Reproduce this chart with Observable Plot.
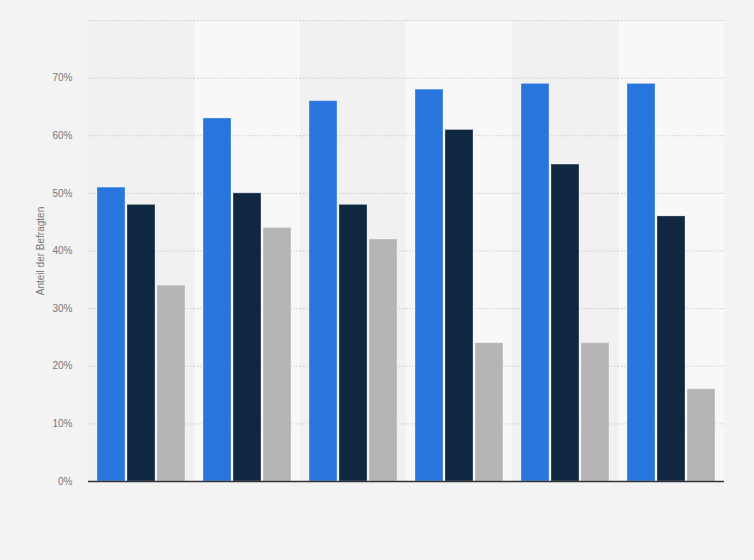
<!DOCTYPE html>
<html>
<head>
<meta charset="utf-8">
<script src="https://cdn.jsdelivr.net/npm/d3@7"></script>
<script src="https://cdn.jsdelivr.net/npm/@observablehq/plot@0.6"></script>
<style>
  html, body { margin: 0; padding: 0; background: #f3f3f3; }
  #chart svg { display: block; }
</style>
</head>
<body>
<div id="chart"></div>
<script>
const groups = ["Gruppe 1", "Gruppe 2", "Gruppe 3", "Gruppe 4", "Gruppe 5", "Gruppe 6"];
const series = ["Serie 1", "Serie 2", "Serie 3"];
const values1 = [51, 63, 66, 68, 69, 69];
const values2 = [48, 50, 48, 61, 55, 46];
const values3 = [34, 44, 42, 24, 24, 16];
const yTicks = [0, 10, 20, 30, 40, 50, 60, 70];
const gridTicks = [10, 20, 30, 40, 50, 60, 70, 80];
const colors = ["#2876dd", "#0f2740", "#b5b5b5"];

const allValues = [values1, values2, values3];
const rows = [];
groups.forEach((g, i) => {
  series.forEach((s, j) => rows.push({group: g, series: s, value: allValues[j][i]}));
});
const lightBands = groups.filter((g, i) => i % 2 === 1);
const darkBands = groups.filter((g, i) => i % 2 === 0);

const font = "'Liberation Sans', Arial, sans-serif";

const chart = Plot.plot({
  width: 754,
  height: 560,
  marginTop: 20,
  marginBottom: 79,
  marginLeft: 88,
  marginRight: 30,
  style: {background: "#f3f3f3", fontFamily: font, fontSize: "10px", color: "#777"},
  fx: {domain: groups, padding: 0, axis: null},
  x: {domain: series, paddingInner: 0.08, paddingOuter: 0.28, axis: null},
  y: {domain: [0, 80], axis: null},
  color: {domain: series, range: colors},
  marks: [
    Plot.rect(darkBands, {fx: d => d, y1: () => 0, y2: () => 80, fill: "#f1f1f1"}),
    Plot.rect(lightBands, {fx: d => d, y1: () => 0, y2: () => 80, fill: "#f8f8f8"}),
    Plot.ruleY(gridTicks, {stroke: "#cfcfcf", strokeDasharray: "1.5,1.5", strokeWidth: 1}),
    Plot.barY(rows, {fx: "group", x: "series", y: "value", fill: "series", stroke: "#ffffff", strokeOpacity: 0.3, strokeWidth: 1}),
    Plot.ruleY([0], {stroke: "#333", strokeWidth: 1.5}),
    Plot.axisY({
      ticks: yTicks,
      tickSize: 0,
      tickPadding: 16,
      tickFormat: d => d + "%",
      fill: "#777",
      label: "Anteil der Befragten",
      labelArrow: "none",
      labelAnchor: "center",
      labelOffset: 52,
      fontSize: 10
    })
  ]
});
document.getElementById("chart").appendChild(chart);
</script>
</body>
</html>
